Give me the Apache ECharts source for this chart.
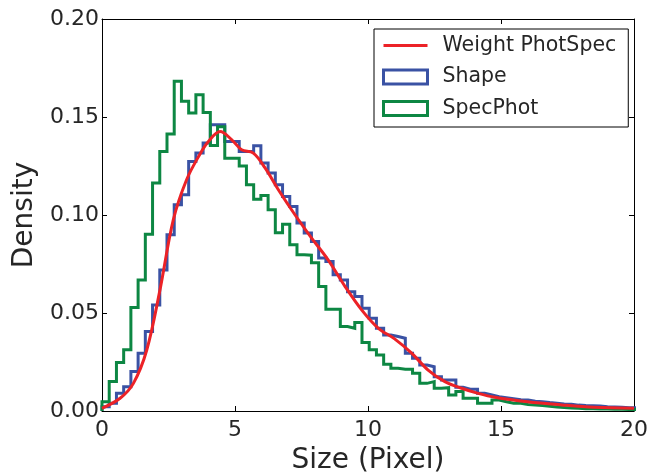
<!DOCTYPE html>
<html><head><meta charset="utf-8">
<script src="https://cdn.jsdelivr.net/npm/echarts@6/dist/echarts.min.js"></script>
<style>html,body{margin:0;padding:0;background:#fff}#c{width:668px;height:472px}</style>
</head><body><div id="c"></div>
<script>
// histogram bin width (x units)
const binWidth = 0.2715;
const shapeDensity = [
  0.0022, 0.0039, 0.0090, 0.0124, 0.0201, 0.0295, 0.0405, 0.0541, 0.0720, 0.0899,
  0.1052, 0.1103, 0.1273, 0.1316, 0.1367, 0.1461, 0.1461, 0.1375, 0.1375, 0.1324,
  0.1324, 0.1353, 0.1265, 0.1214, 0.1154, 0.1094, 0.1043, 0.0959, 0.0908, 0.0865,
  0.0780, 0.0763, 0.0695, 0.0669, 0.0609, 0.0584, 0.0524, 0.0473, 0.0422, 0.0388,
  0.0380, 0.0371, 0.0295, 0.0269, 0.0235, 0.0226, 0.0175, 0.0158, 0.0158, 0.0121,
  0.0111, 0.0111, 0.0090, 0.0082, 0.0073, 0.0068, 0.0063, 0.0058, 0.0056, 0.0050,
  0.0047, 0.0043, 0.0040, 0.0036, 0.0034, 0.0030, 0.0028, 0.0027, 0.0025, 0.0022,
  0.0021, 0.0019, 0.0017, 0.0016
];
const specPhotDensity = [
  0.0047, 0.0150, 0.0247, 0.0312, 0.0528, 0.0669, 0.0902, 0.1163, 0.1324, 0.1413,
  0.1682, 0.1580, 0.1520, 0.1614, 0.1523, 0.1355, 0.1450, 0.1290, 0.1290, 0.1250,
  0.1154, 0.1080, 0.1100, 0.1027, 0.0910, 0.0953, 0.0848, 0.0797, 0.0795, 0.0757,
  0.0635, 0.0519, 0.0519, 0.0431, 0.0422, 0.0451, 0.0349, 0.0312, 0.0286, 0.0239,
  0.0218, 0.0213, 0.0213, 0.0193, 0.0141, 0.0150, 0.0116, 0.0119, 0.0082, 0.0099,
  0.0065, 0.0065, 0.0039, 0.0039, 0.0056, 0.0047, 0.0040, 0.0040, 0.0033, 0.0030,
  0.0028, 0.0024, 0.0020, 0.0018, 0.0015, 0.0014, 0.0012, 0.0012, 0.0010, 0.0010,
  0.0009, 0.0009, 0.0008, 0.0008
];
const weightX = [0, 0.68, 1.18, 1.68, 2.18, 2.68, 3.18, 3.68, 4.0, 4.44, 4.87, 5.25, 5.69, 6.13, 6.63, 7.26, 7.88, 8.5, 9.14, 9.76, 10.39, 11.0, 11.64, 12.26, 12.89, 13.52, 14.14, 14.77, 16.0, 17.28, 18.5, 20];
const weightY = [0.0014, 0.0065, 0.0141, 0.031, 0.0618, 0.0975, 0.118, 0.131, 0.1375, 0.1426, 0.1385, 0.1333, 0.1316, 0.124, 0.1129, 0.100, 0.0882, 0.0771, 0.0635, 0.0516, 0.0422, 0.0368, 0.0295, 0.0209, 0.015, 0.0116, 0.009, 0.007, 0.0047, 0.0031, 0.0019, 0.0014];
const xTicks = [0, 5, 10, 15, 20];
const yTicks = [0, 0.05, 0.10, 0.15, 0.20];
const seriesNames = ['Weight PhotSpec', 'Shape', 'SpecPhot'];

const RED = '#ec2227', BLUE = '#3a52a4', GREEN = '#0d8743', INK = '#262626';
const FONT = 'DejaVu Sans';
// legend line glyph: a 3px bar across a 44x14 box (tiny corner marks fix the box)
const LINE_ICON = 'path://M0,0L0.01,0L0,0.01Z M44,14L43.99,14L44,13.99Z M0,5.5L44,5.5L44,8.5L0,8.5Z';

function stepData(vals) {
  const d = [[0, 0]];
  vals.forEach((v, i) => d.push([i * binWidth, v]));
  d.push([vals.length * binWidth, vals[vals.length - 1]]);
  return d;
}

const chart = echarts.init(document.getElementById('c'), null, {renderer: 'canvas'});
const axisCommon = {
  type: 'value',
  axisLine: {show: true, onZero: false, lineStyle: {color: '#000', width: 1}},
  axisTick: {show: true, inside: true, length: 5, lineStyle: {color: '#000', width: 1}},
  splitLine: {show: false}
};
chart.setOption({
  animation: false,
  backgroundColor: '#fff',
  grid: {left: 102, right: 34, top: 19, bottom: 61, containLabel: false, outerBoundsMode: 'none'},
  xAxis: [
    Object.assign({}, axisCommon, {
      min: xTicks[0], max: xTicks[xTicks.length - 1], interval: xTicks[1] - xTicks[0], position: 'bottom',
      axisLabel: {fontSize: 22, color: INK, fontFamily: FONT, margin: 8, showMinLabel: true, showMaxLabel: true},
      name: 'Size (Pixel)', nameLocation: 'middle', nameGap: 36,
      nameTextStyle: {fontSize: 28, color: INK, fontFamily: FONT}
    }),
    Object.assign({}, axisCommon, {
      min: xTicks[0], max: xTicks[xTicks.length - 1], interval: xTicks[1] - xTicks[0], position: 'top',
      axisLabel: {show: false}
    })
  ],
  yAxis: [
    Object.assign({}, axisCommon, {
      min: yTicks[0], max: yTicks[yTicks.length - 1], interval: yTicks[1] - yTicks[0], position: 'left',
      axisLabel: {fontSize: 22, color: INK, fontFamily: FONT, margin: 3, showMinLabel: true, showMaxLabel: true,
        formatter: v => v.toFixed(2)},
      name: 'Density', nameLocation: 'middle', nameGap: 58, nameRotate: 90,
      nameTextStyle: {fontSize: 28, color: INK, fontFamily: FONT}
    }),
    Object.assign({}, axisCommon, {
      min: yTicks[0], max: yTicks[yTicks.length - 1], interval: yTicks[1] - yTicks[0], position: 'right',
      axisLabel: {show: false}
    })
  ],
  legend: {
    orient: 'vertical', left: 374, top: 29,
    backgroundColor: '#fff', borderColor: '#000', borderWidth: 1, borderRadius: 0,
    padding: [6, 12, 8, 8], itemWidth: 44, itemHeight: 14, itemGap: 10.5,
    textStyle: {fontSize: 20.5, color: INK, fontFamily: FONT, padding: [0, 0, 0, 10]},
    data: [
      {name: seriesNames[0], icon: LINE_ICON, itemStyle: {color: RED, borderWidth: 0}},
      {name: seriesNames[1], icon: 'rect', itemStyle: {color: 'rgba(0,0,0,0)', borderColor: BLUE, borderWidth: 3}},
      {name: seriesNames[2], icon: 'rect', itemStyle: {color: 'rgba(0,0,0,0)', borderColor: GREEN, borderWidth: 3}}
    ]
  },
  series: [
    {
      name: seriesNames[1], type: 'line', step: 'end', data: stepData(shapeDensity),
      symbol: 'none', color: BLUE, lineStyle: {color: BLUE, width: 3, join: 'miter'}, z: 2
    },
    {
      name: seriesNames[2], type: 'line', step: 'end', data: stepData(specPhotDensity),
      symbol: 'none', color: GREEN, lineStyle: {color: GREEN, width: 3, join: 'miter'}, z: 3
    },
    {
      name: seriesNames[0], type: 'line', smooth: 0.35,
      data: weightX.map((x, i) => [x, weightY[i]]),
      symbol: 'none', color: RED, lineStyle: {color: RED, width: 3}, z: 4
    }
  ]
});
</script></body></html>
